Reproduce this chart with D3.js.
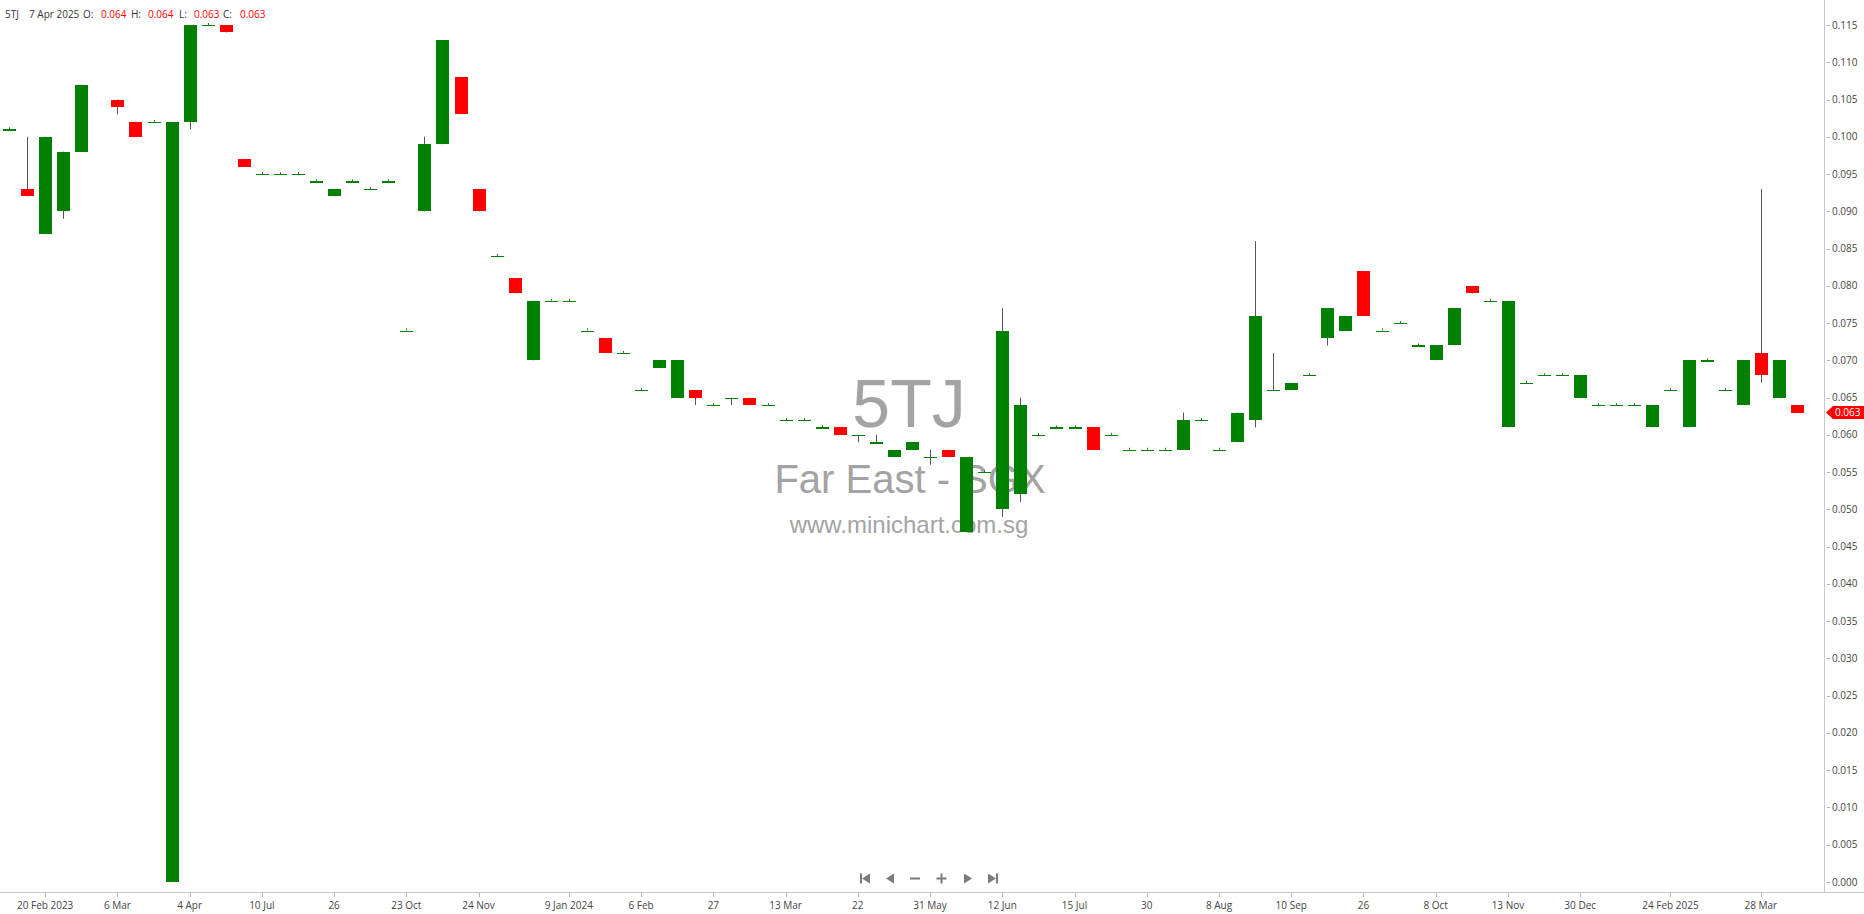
<!DOCTYPE html>
<html>
<head>
<meta charset="utf-8">
<script src="https://cdn.jsdelivr.net/npm/d3@7"></script>
<style>
  html, body { margin: 0; padding: 0; background: #fff; }
  svg { display: block; }
  text { font-family: "Open Sans", "Noto Sans", sans-serif; }
</style>
</head>
<body>
<svg id="chart" width="1864" height="914"></svg>
<script>
// ---- data ----
const symbol = "5TJ";
const lastDate = "7 Apr 2025";
const exchange = "Far East - SGX";
const site = "www.minichart.com.sg";

// candle index 0..99 (index 5 has no candle)
const opens  = [0.101,0.093,0.087,0.090,0.098,null,0.105,0.102,0.102,0.000,
                0.102,0.115,0.115,0.097,0.095,0.095,0.095,0.094,0.092,0.094,
                0.093,0.094,0.074,0.090,0.099,0.108,0.093,0.084,0.081,0.070,
                0.078,0.078,0.074,0.073,0.071,0.066,0.069,0.065,0.066,0.064,
                0.065,0.065,0.064,0.062,0.062,0.061,0.061,0.060,0.059,0.057,
                0.058,0.057,0.058,0.047,0.055,0.050,0.052,0.060,0.061,0.061,
                0.061,0.060,0.058,0.058,0.058,0.058,0.062,0.058,0.059,0.062,
                0.066,0.066,0.068,0.073,0.074,0.082,0.074,0.075,0.072,0.070,
                0.072,0.080,0.078,0.061,0.067,0.068,0.068,0.065,0.064,0.064,
                0.064,0.061,0.066,0.061,0.070,0.066,0.064,0.071,0.065,0.064];
const highs  = [0.101,0.100,0.100,0.098,0.107,null,0.105,0.102,0.102,0.102,
                0.115,0.115,0.115,0.097,0.095,0.095,0.095,0.094,0.093,0.094,
                0.093,0.094,0.074,0.100,0.113,0.108,0.093,0.084,0.081,0.078,
                0.078,0.078,0.074,0.073,0.071,0.066,0.070,0.070,0.066,0.064,
                0.065,0.065,0.064,0.062,0.062,0.061,0.061,0.060,0.060,0.058,
                0.059,0.058,0.058,0.057,0.055,0.077,0.065,0.060,0.061,0.061,
                0.061,0.060,0.058,0.058,0.058,0.063,0.062,0.058,0.063,0.086,
                0.071,0.067,0.068,0.077,0.076,0.082,0.074,0.075,0.072,0.072,
                0.077,0.080,0.078,0.078,0.067,0.068,0.068,0.068,0.064,0.064,
                0.064,0.064,0.066,0.070,0.070,0.066,0.070,0.093,0.070,0.064];
const lows   = [0.101,0.092,0.087,0.089,0.098,null,0.103,0.100,0.102,0.000,
                0.101,0.115,0.114,0.096,0.095,0.095,0.095,0.094,0.092,0.094,
                0.093,0.094,0.074,0.090,0.099,0.103,0.090,0.084,0.079,0.070,
                0.078,0.078,0.074,0.071,0.071,0.066,0.069,0.065,0.064,0.064,
                0.064,0.064,0.064,0.062,0.062,0.061,0.060,0.059,0.059,0.057,
                0.058,0.056,0.057,0.047,0.055,0.049,0.051,0.060,0.061,0.061,
                0.058,0.060,0.058,0.058,0.058,0.058,0.062,0.058,0.059,0.061,
                0.066,0.066,0.068,0.072,0.074,0.076,0.074,0.075,0.072,0.070,
                0.072,0.079,0.078,0.061,0.067,0.068,0.068,0.065,0.064,0.064,
                0.064,0.061,0.066,0.061,0.070,0.066,0.064,0.067,0.065,0.063];
const closes = [0.101,0.092,0.100,0.098,0.107,null,0.104,0.100,0.102,0.102,
                0.115,0.115,0.114,0.096,0.095,0.095,0.095,0.094,0.093,0.094,
                0.093,0.094,0.074,0.099,0.113,0.103,0.090,0.084,0.079,0.078,
                0.078,0.078,0.074,0.071,0.071,0.066,0.070,0.070,0.065,0.064,
                0.065,0.064,0.064,0.062,0.062,0.061,0.060,0.060,0.059,0.058,
                0.059,0.057,0.057,0.057,0.055,0.074,0.064,0.060,0.061,0.061,
                0.058,0.060,0.058,0.058,0.058,0.062,0.062,0.058,0.063,0.076,
                0.066,0.067,0.068,0.077,0.076,0.076,0.074,0.075,0.072,0.072,
                0.077,0.079,0.078,0.078,0.067,0.068,0.068,0.068,0.064,0.064,
                0.064,0.064,0.066,0.070,0.070,0.066,0.070,0.068,0.070,0.063];

// x-axis ticks (candle index -> label)
const xTickIndex  = [2,6,10,14,18,22,26,31,35,39,43,47,51,55,59,63,67,71,75,79,83,87,92,97];
const xTickLabels = ["20 Feb 2023","6 Mar","4 Apr","10 Jul","26","23 Oct","24 Nov","9 Jan 2024",
                     "6 Feb","27","13 Mar","22","31 May","12 Jun","15 Jul","30","8 Aug","10 Sep",
                     "26","8 Oct","13 Nov","30 Dec","24 Feb 2025","28 Mar"];
// y-axis ticks
const yTicks = d3.range(0, 24).map(i => +(i * 0.005).toFixed(3));

// ---- drawing ----
const W = 1864, H = 914;
const plotRight = 1824, axisY = 892;
const svg = d3.select("#chart");

const slots = 101;
const x = d3.scaleLinear().domain([-0.5, slots - 0.5]).range([0, plotRight]);
const y = d3.scaleLinear().domain([0, 0.115]).range([882, 25]);
const candleW = 13;
const UP = "#008000", DOWN = "#ff0000", WICK = "#555555";

const candles = opens.map((o, i) => ({i, o, h: highs[i], l: lows[i], c: closes[i]}))
                     .filter(d => d.o !== null);

// watermark (behind candles)
const wm = svg.append("g").attr("fill", "#a3a3a3").attr("text-anchor", "middle")
  .style("font-family", "'Liberation Sans', Arial, sans-serif");
wm.append("text").attr("x", 909).attr("y", 427).attr("font-size", 68).text(symbol)
  .style("font-family", "'Liberation Sans', Arial, sans-serif");
wm.append("text").attr("x", 910).attr("y", 493).attr("font-size", 40).text(exchange)
  .style("font-family", "'Liberation Sans', Arial, sans-serif");
wm.append("text").attr("x", 909).attr("y", 533).attr("font-size", 24).text(site)
  .style("font-family", "'Liberation Sans', Arial, sans-serif");

// wicks
const g = svg.append("g");
g.selectAll("line.wick").data(candles).join("line")
  .attr("class", "wick")
  .attr("x1", d => Math.round(x(d.i)) + 0.5)
  .attr("x2", d => Math.round(x(d.i)) + 0.5)
  .attr("y1", d => y(d.h) === y(d.l) ? y(d.h) - 2 : y(d.h))
  .attr("y2", d => y(d.l))
  .attr("stroke", WICK).attr("stroke-width", 1);

// bodies
g.selectAll("rect.body").data(candles).join("rect")
  .attr("class", "body")
  .attr("x", d => Math.round(x(d.i)) - 6)
  .attr("width", candleW)
  .attr("y", d => Math.min(y(d.o), y(d.c)))
  .attr("height", d => Math.max(1.2, Math.abs(y(d.o) - y(d.c))))
  .attr("fill", d => d.c < d.o ? DOWN : UP)
  .attr("shape-rendering", "crispEdges");

// y axis
svg.append("line").attr("x1", plotRight + 0.5).attr("x2", plotRight + 0.5)
  .attr("y1", 0).attr("y2", axisY).attr("stroke", "#c8c8c8");
const ya = svg.append("g");
ya.selectAll("line").data(yTicks).join("line")
  .attr("x1", plotRight + 3).attr("x2", plotRight + 6)
  .attr("y1", d => Math.round(y(d)) + 0.5).attr("y2", d => Math.round(y(d)) + 0.5)
  .attr("stroke", "#b0b0b0");
ya.selectAll("text").data(yTicks).join("text")
  .attr("x", plotRight + 8).attr("y", d => y(d)).attr("dy", "0.35em")
  .attr("font-size", 10).attr("fill", "#444").text(d3.format(".3f"));

// x axis
svg.append("line").attr("x1", 0).attr("x2", W)
  .attr("y1", axisY + 0.5).attr("y2", axisY + 0.5).attr("stroke", "#c8c8c8");
const xa = svg.append("g");
xa.selectAll("line").data(xTickIndex).join("line")
  .attr("x1", d => Math.round(x(d)) + 0.5).attr("x2", d => Math.round(x(d)) + 0.5)
  .attr("y1", axisY + 1).attr("y2", axisY + 5).attr("stroke", "#b0b0b0");
xa.selectAll("text").data(xTickIndex).join("text")
  .attr("x", d => x(d)).attr("y", 909).attr("text-anchor", "middle")
  .attr("font-size", 10).attr("fill", "#444")
  .text((d, k) => xTickLabels[k]);

// last price tag
const last = candles[candles.length - 1];
const ty = y(last.c);
svg.append("path")
  .attr("d", `M${plotRight + 2},${ty} L${plotRight + 9},${ty - 6.5} L${W},${ty - 6.5} L${W},${ty + 6.5} L${plotRight + 9},${ty + 6.5} Z`)
  .attr("fill", DOWN);
svg.append("text").attr("x", plotRight + 11).attr("y", ty).attr("dy", "0.35em")
  .attr("font-size", 10).attr("fill", "#fff").text(d3.format(".3f")(last.c));

// header
const fmt = d3.format(".3f");
const hdr = svg.append("g").attr("font-size", 10);
const hdrItems = [
  {x: 5,   t: symbol,      c: "#333"},
  {x: 29,  t: lastDate,    c: "#333"},
  {x: 83,  t: "O:",        c: "#333"},
  {x: 101, t: fmt(last.o), c: DOWN},
  {x: 131, t: "H:",        c: "#333"},
  {x: 148, t: fmt(last.h), c: DOWN},
  {x: 179, t: "L:",        c: "#333"},
  {x: 194, t: fmt(last.l), c: DOWN},
  {x: 223, t: "C:",        c: "#333"},
  {x: 240, t: fmt(last.c), c: DOWN}
];
hdr.selectAll("text").data(hdrItems).join("text")
  .attr("x", d => d.x).attr("y", 18).attr("fill", d => d.c).text(d => d.t);

// navigation buttons
const nav = svg.append("g").attr("fill", "#7a7a7a").attr("stroke", "#7a7a7a");
const ny = 878.5;
// first
nav.append("rect").attr("x", 860).attr("y", ny - 5).attr("width", 2).attr("height", 10).attr("stroke", "none");
nav.append("path").attr("d", `M862,${ny} L870,${ny - 5} L870,${ny + 5} Z`).attr("stroke", "none");
// prev
nav.append("path").attr("d", `M886,${ny} L894,${ny - 5} L894,${ny + 5} Z`).attr("stroke", "none");
// minus
nav.append("rect").attr("x", 910).attr("y", ny - 1).attr("width", 10).attr("height", 2).attr("stroke", "none");
// plus
nav.append("rect").attr("x", 936.5).attr("y", ny - 1).attr("width", 10).attr("height", 2).attr("stroke", "none");
nav.append("rect").attr("x", 940.5).attr("y", ny - 5).attr("width", 2).attr("height", 10).attr("stroke", "none");
// next
nav.append("path").attr("d", `M972,${ny} L964,${ny - 5} L964,${ny + 5} Z`).attr("stroke", "none");
// last
nav.append("path").attr("d", `M996,${ny} L988,${ny - 5} L988,${ny + 5} Z`).attr("stroke", "none");
nav.append("rect").attr("x", 996).attr("y", ny - 5).attr("width", 2).attr("height", 10).attr("stroke", "none");
</script>
</body>
</html>
